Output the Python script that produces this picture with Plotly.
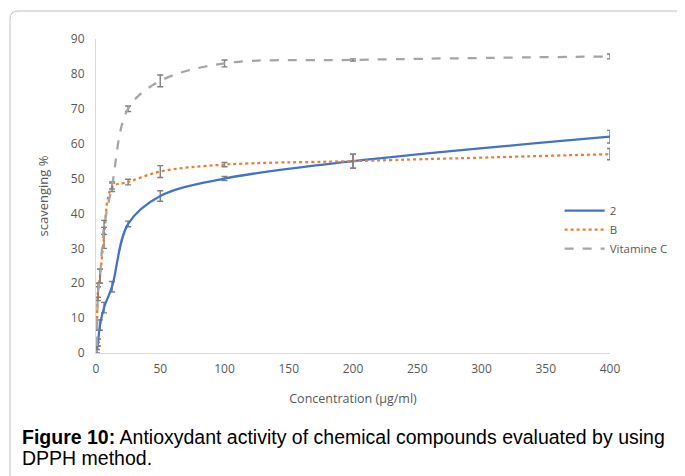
import plotly.graph_objects as go

conc = [0.78, 1.56, 3.125, 6.25, 12.5, 25, 50, 100, 200, 400]
s2 = [1, 3, 8, 13, 19, 37, 45, 50, 55, 62]
s2_err = [1, 1, 1.5, 1.5, 1.5, 0.8, 1.5, 0.6, 2, 1.8]
sB = [8, 18, 22, 33, 47.5, 49, 52, 54, 55, 57]
sB_err = [1.5, 2, 2, 3, 1.2, 0.8, 1.7, 0.6, 2, 1.6]
sC = [2, 17, 22, 36, 48, 70, 78, 83, 84, 85]
sC_err = [1, 2, 2, 2, 1, 0.8, 1.7, 1, 0.3, 0.7]

xticks = [0, 50, 100, 150, 200, 250, 300, 350, 400]
yticks = [0, 10, 20, 30, 40, 50, 60, 70, 80, 90]

font_fam = "Open Sans, Lato, sans-serif"
tick_col = "#595959"
err_col = "#7f7f7f"

W, H = 685, 476
ML, MR, MT, MB = 88, 83, 31, 131

fig = go.Figure()

def add(name, y, err, color, dash, width):
    fig.add_trace(go.Scatter(
        x=conc, y=y, name=name, mode="lines",
        line=dict(color=color, dash=dash, width=width, shape="spline", smoothing=1.0),
        error_y=dict(type="data", array=err, visible=True, color=err_col, thickness=1.4, width=3),
    ))

add("2", s2, s2_err, "#4472c4", "solid", 2.25)
add("B", sB, sB_err, "#ed7d31", "dot", 2.25)
add("Vitamine C", sC, sC_err, "#a5a5a5", "dash", 2.25)

fig.update_layout(
    width=W, height=H,
    margin=dict(l=ML, r=MR, t=MT, b=MB, autoexpand=False),
    plot_bgcolor="white", paper_bgcolor="white",
    font=dict(family=font_fam, size=12, color=tick_col),
    showlegend=True,
    legend=dict(x=0.902, y=0.5, xanchor="left", yanchor="top",
                font=dict(size=11.5, color=tick_col), bgcolor="rgba(0,0,0,0)",
                tracegroupgap=0, itemwidth=40),
    xaxis=dict(range=[0, 400], tickvals=xticks, showgrid=False, zeroline=False,
               showline=True, linecolor="#d9d9d9", linewidth=1, ticks="",
               ticklabelstandoff=5,
               title=dict(text="Concentration (µg/ml)", font=dict(size=12.5, color=tick_col), standoff=17)),
    yaxis=dict(range=[0, 90], tickvals=yticks, showgrid=False, zeroline=False,
               showline=True, linecolor="#d9d9d9", linewidth=1, ticks="",
               ticklabelstandoff=8,
               title=dict(text="scavenging %", font=dict(size=13, color=tick_col), standoff=19)),
)

def px(x):
    return (x - ML) / (W - ML - MR)

def py(y):
    return (H - MB - y) / (H - MB - MT)

# outer border with rounded top corners
r = 8
x0, x1, y0, y1 = 2, 675, 3, 480
path = (f"M {px(x0)},{py(y1)} L {px(x0)},{py(y0 + r)} Q {px(x0)},{py(y0)} {px(x0 + r)},{py(y0)} "
        f"L {px(x1 - r)},{py(y0)} Q {px(x1)},{py(y0)} {px(x1)},{py(y0 + r)} L {px(x1)},{py(y1)}")
fig.add_shape(type="path", xref="paper", yref="paper", path=path,
              line=dict(color="#bfbfbf", width=1), layer="below")

cap_font = dict(family="Liberation Sans, Arial, sans-serif", size=19.5, color="#000000")
fig.add_annotation(xref="paper", yref="paper", x=px(12), y=py(429), xanchor="left", yanchor="middle",
                   align="left", showarrow=False,
                   text="<b>Figure 10:</b> Antioxydant activity of chemical compounds evaluated by using",
                   font=cap_font)
fig.add_annotation(xref="paper", yref="paper", x=px(12), y=py(450), xanchor="left", yanchor="middle",
                   align="left", showarrow=False,
                   text="DPPH method.", font=cap_font)

fig.write_html("out.html")
